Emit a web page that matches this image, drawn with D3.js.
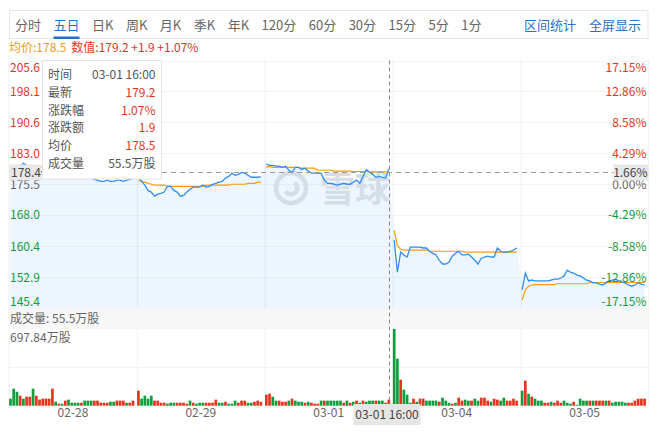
<!DOCTYPE html>
<html><head><meta charset="utf-8">
<script src="https://cdn.jsdelivr.net/npm/d3@7"></script>
<style>
body{margin:0;background:#fff;}
svg{display:block;font-family:"Noto Sans CJK SC","Noto Sans",sans-serif;}
</style></head><body>
<svg id="c" width="668" height="433"></svg>
<script>
// ---------------- data ----------------
const days = ["02-28","02-29","03-01","03-04","03-05"];
const tabs = ["分时","五日","日K","周K","月K","季K","年K","120分","60分","30分","15分","5分","1分"];
const links = ["区间统计","全屏显示"];
const priceTicks = [205.6,198.1,190.6,183.0,175.5,168.0,160.4,152.9,145.4];
const pctLabels = ["17.15%","12.86%","8.58%","4.29%","0.00%","-4.29%","-8.58%","-12.86%","-17.15%"];
const basePrice = 175.5;
const volMax = 697.84;

const priceD1 = [179.9,180.1,179.6,179.9,180.6,180.1,179.6,179.9,179.4,178.9,178.4,177.9,178.2,177.7,177.2,177.4,177.9,178.2,177.7,177.4,177.0,177.2,177.7,177.4,177.2,177.0,176.7,176.5,176.2,176.2,176.5,176.2,176.2,176.5,176.5,176.2,176.5,176.7,177.0];
const priceD2 = [177.7,176.2,175.3,174.0,173.6,172.6,173.1,173.3,173.6,175.0,175.0,174.0,173.6,172.6,172.8,173.6,174.3,174.8,174.8,174.8,175.3,174.8,175.0,175.5,175.7,176.0,176.2,177.0,177.4,178.2,177.7,177.9,178.4,178.2,177.7,177.2,177.2,177.2,177.3];
const priceD3 = [180.4,180.1,180.1,179.9,179.9,179.6,179.9,178.9,178.4,179.6,179.6,179.1,179.4,178.7,178.2,178.2,178.2,178.2,176.5,175.7,175.7,175.5,175.3,175.5,175.7,175.5,175.5,176.0,176.5,175.7,177.4,179.1,178.4,177.9,177.2,177.4,177.2,177.0,179.2];
const priceD4 = [161.9,154.1,159.0,158.3,157.8,160.2,160.2,160.2,160.2,160.0,160.0,159.2,158.7,158.3,157.0,156.1,156.1,156.6,158.0,158.7,159.2,158.3,158.3,158.5,157.8,157.0,156.1,157.5,157.8,158.0,157.8,157.8,160.0,159.2,159.0,159.0,159.2,159.5,160.0];
const priceD5 = [149.8,153.9,152.0,152.2,152.0,152.0,152.0,152.0,152.0,152.2,152.4,152.4,152.7,153.2,154.6,154.1,153.9,153.4,153.2,152.7,152.2,152.0,151.5,151.5,151.2,151.0,151.5,152.0,152.2,152.4,152.0,151.7,151.5,151.0,150.7,151.0,151.5,151.2,151.0];

const avgD1 = [179.9,180.0,179.9,179.9,180.1,180.1,180.0,180.0,179.9,179.8,179.7,179.6,179.5,179.4,179.3,179.2,179.1,179.0,178.9,178.9,178.8,178.7,178.6,178.5,178.5,178.4,178.3,178.2,178.2,178.1,178.0,178.0,177.9,177.9,177.8,177.8,177.7,177.7,177.7];
const avgD2 = [176.5,176.2,176.0,175.7,175.5,175.3,175.3,175.3,175.3,175.0,175.0,175.0,175.0,175.0,175.0,175.0,175.0,175.0,175.0,175.0,175.0,175.3,175.3,175.3,175.3,175.3,175.3,175.3,175.3,175.5,175.5,175.5,175.5,175.5,175.7,175.7,175.7,176.0,176.0];
const avgD3 = [179.6,179.9,179.6,179.6,179.6,179.6,179.6,179.6,179.6,179.6,179.6,179.4,179.4,179.4,179.4,179.4,178.9,178.9,178.9,178.9,178.9,178.7,178.7,178.7,178.7,178.7,178.7,178.6,178.6,178.6,178.6,178.6,178.5,178.5,178.5,178.5,178.5,178.5,178.5];
const avgD4 = [164.3,160.5,159.7,159.5,159.5,159.5,159.5,159.5,159.5,159.5,159.5,159.2,159.2,159.2,159.2,159.2,159.2,159.2,159.2,159.2,159.2,159.2,159.0,159.0,159.0,159.0,159.0,159.0,159.0,159.0,159.0,159.0,159.0,159.0,159.0,159.0,159.0,159.0,159.0];
const avgD5 = [147.3,149.8,150.7,151.0,151.1,151.1,151.1,151.1,151.1,151.1,151.1,151.3,151.3,151.3,151.3,151.3,151.3,151.3,151.3,151.3,151.3,151.6,151.6,151.6,151.6,151.6,151.6,151.6,151.6,151.6,151.6,151.6,151.6,151.6,151.6,151.6,151.6,151.6,151.6];

// volume in 万股, direction: 1 = up (red), -1 = down (green)
const volD1 = [64,155,127,91,64,82,82,155,91,55,64,64,64,155,36,18,18,46,55,27,27,27,27,46,46,46,46,46,27,27,27,36,36,46,46,46,27,27,46];
const dirD1 = [-1,-1,-1,1,-1,1,1,-1,1,1,1,1,1,1,-1,1,-1,1,-1,-1,-1,-1,1,-1,-1,-1,1,1,1,1,1,-1,-1,1,1,1,-1,1,1];
const volD2 = [137,64,91,64,91,46,46,27,27,18,27,27,27,27,27,18,46,27,18,27,27,27,27,27,55,27,27,36,18,18,46,27,46,46,27,27,36,46,36];
const dirD2 = [1,-1,-1,-1,-1,1,1,1,1,-1,-1,-1,1,1,1,1,-1,1,-1,-1,-1,1,1,1,1,-1,-1,1,-1,-1,-1,1,1,1,-1,-1,1,1,1];
const volD3 = [100,109,82,46,46,36,36,46,64,46,36,36,27,36,27,18,18,46,46,46,46,46,46,46,27,46,27,36,46,27,46,36,46,46,46,46,46,27,55.5];
const dirD3 = [1,1,-1,-1,1,1,1,-1,1,-1,-1,-1,1,-1,1,1,1,-1,1,-1,-1,-1,-1,-1,1,-1,1,-1,1,-1,1,-1,-1,-1,1,-1,-1,1,1];
const volD4 = [697.84,428,237,146,100,27,64,36,64,64,46,46,46,46,36,73,46,27,18,27,73,46,55,46,46,64,46,73,73,46,36,64,55,46,73,46,46,64,46];
const dirD4 = [-1,-1,1,-1,-1,-1,1,-1,1,1,-1,-1,-1,-1,1,-1,-1,-1,1,-1,1,1,-1,-1,1,-1,-1,1,1,1,-1,1,1,-1,-1,1,1,1,1];
const volD5 = [137,228,109,82,64,46,46,27,27,36,27,46,27,46,27,18,36,9,64,46,46,46,46,46,46,46,46,46,27,36,36,36,27,27,27,46,64,64,64];
const dirD5 = [-1,1,-1,1,-1,-1,-1,1,1,-1,1,1,1,-1,-1,-1,1,-1,-1,-1,-1,1,-1,1,1,1,-1,1,-1,-1,-1,-1,-1,1,1,1,1,1,1];

const tipLabels = ["时间","最新","涨跌幅","涨跌额","均价","成交量"];
const tipValues = ["03-01 16:00","179.2","1.07%","1.9","178.5","55.5万股"];
const crossPrice = 178.4, crossPct = "1.66%";
const crossDay = "03-01", crossIndex = 38, crossTime = "03-01 16:00";
const summaryAvg = "均价:178.5", summaryVal = "数值:179.2 +1.9 +1.07%";
const volHeader = "成交量: 55.5万股";
const watermark = "雪球";

// ---------------- drawing ----------------
const RED = "#e4361f", GREEN = "#0f9d3e", BLUE = "#2f8ff2", ORANGE = "#fb9b0a";
const svg = d3.select("#c");
const L = 9, R = 648.5;
const pTop = 60.5, pBot = 308, vTop = 329, vBot = 405.7;

const days5 = [priceD1,priceD2,priceD3,priceD4,priceD5];
const avgs5 = [avgD1,avgD2,avgD3,avgD4,avgD5];
const vols5 = [volD1,volD2,volD3,volD4,volD5];
const dirs5 = [dirD1,dirD2,dirD3,dirD4,dirD5];

const xDay = d3.scaleBand().domain(days).range([L, R]).padding(0);
const xIn = d3.scaleLinear().domain([0, 38]).range([1.5, 124]);
const y = d3.scaleLinear().domain([145.4, 205.6]).range([pBot, pTop]);
const yv = d3.scaleLinear().domain([0, volMax]).range([vBot, vTop]);
const fx = (day, i) => xDay(day) + xIn(i);

// toolbar
svg.append("rect").attr("x", 9.5).attr("y", 10.5).attr("width", 638.5).attr("height", 28)
  .attr("fill", "#fff").attr("stroke", "#e6e6e6");
let tx = 15;
tabs.forEach((t, i) => {
  const el = svg.append("text").attr("x", tx).attr("y", 29.5).attr("font-size", 13)
    .attr("fill", i === 1 ? "#1c6fd8" : "#666").text(t);
  const w = el.node().getComputedTextLength();
  if (i === 1) svg.append("rect").attr("x", tx).attr("y", 36.5).attr("width", w).attr("height", 2.5).attr("fill", "#1c6fd8");
  tx += w + 12.5;
});
let rx = 641;
links.slice().reverse().forEach(t => {
  const el = svg.append("text").attr("x", rx).attr("y", 29.5).attr("font-size", 13)
    .attr("text-anchor", "end").attr("fill", "#2a6fc9").text(t);
  rx -= el.node().getComputedTextLength() + 13;
});
// summary line
const s1 = svg.append("text").attr("x", 9).attr("y", 52).attr("font-size", 12).attr("fill", "#f39a1c").text(summaryAvg);
svg.append("text").attr("x", 9 + s1.node().getComputedTextLength() + 5).attr("y", 52)
  .attr("font-size", 12).attr("fill", RED).text(summaryVal);

// continuous area under price line
const allPts = days.flatMap((day, k) => days5[k].map((v, i) => ({ x: fx(day, i), v })));
const ar = d3.area().x(d => d.x).y0(pBot).y1(d => y(d.v));
svg.append("path").attr("d", ar(allPts)).attr("fill", "#edf5fe");

// grid on top of area
const gGrid = svg.append("g");
gGrid.selectAll("line.h").data(priceTicks).join("line")
  .attr("x1", L).attr("x2", R).attr("y1", d => Math.round(y(d)) + 0.5).attr("y2", d => Math.round(y(d)) + 0.5)
  .attr("stroke", "#000").attr("stroke-opacity", 0.045);
days.slice(1).forEach(d => {
  gGrid.append("line").attr("x1", xDay(d) + 0.5).attr("x2", xDay(d) + 0.5)
    .attr("y1", pTop).attr("y2", pBot).attr("stroke", "#000").attr("stroke-opacity", 0.06);
  gGrid.append("line").attr("x1", xDay(d) + 0.5).attr("x2", xDay(d) + 0.5)
    .attr("y1", vTop).attr("y2", vBot).attr("stroke", "#000").attr("stroke-opacity", 0.06);
});
svg.append("line").attr("x1", L).attr("x2", L).attr("y1", pTop).attr("y2", vBot).attr("stroke", "#f0f0f0");
svg.append("line").attr("x1", R).attr("x2", R).attr("y1", pTop).attr("y2", vBot).attr("stroke", "#f0f0f0");

// watermark
const wm = svg.append("g").attr("fill", "#d5dde7").attr("stroke", "#d5dde7");
wm.append("circle").attr("cx", 291).attr("cy", 188).attr("r", 15).attr("fill", "none").attr("stroke-width", 4.5);
wm.append("path").attr("d", d3.arc()({ innerRadius: 4, outerRadius: 8.5, startAngle: 0.6, endAngle: 4.2 }))
  .attr("transform", "translate(291,188)").attr("stroke", "none");
wm.append("text").attr("x", 320).attr("y", 202).attr("font-size", 35).attr("font-weight", "bold")
  .attr("stroke", "none").text(watermark);

// lines per day
days.forEach((day, k) => {
  const ln = d3.line().x((d, i) => fx(day, i)).y(d => y(d));
  svg.append("path").attr("d", ln(avgs5[k])).attr("fill", "none").attr("stroke", ORANGE).attr("stroke-width", 1.2);
  svg.append("path").attr("d", ln(days5[k])).attr("fill", "none").attr("stroke", BLUE).attr("stroke-width", 1.3);
});

// axes labels (inside plot)
const axL = d3.axisRight(y).tickValues(priceTicks).tickSize(0).tickPadding(1).tickFormat(d3.format(".1f"));
const gL = svg.append("g").attr("transform", `translate(${L},0)`).call(axL);
const axR = d3.axisLeft(y).tickValues(priceTicks).tickSize(0).tickPadding(1)
  .tickFormat((d, i) => pctLabels[i]);
const gR = svg.append("g").attr("transform", `translate(${R - 1},0)`).call(axR);
[gL, gR].forEach(g => {
  g.select(".domain").remove();
  g.selectAll("text").attr("font-size", 12).attr("font-family", "Noto Sans CJK SC, sans-serif")
    .attr("fill", d => d > basePrice + 0.01 ? RED : d < basePrice - 0.01 ? GREEN : "#666")
    .attr("dy", d => d === priceTicks[0] ? "0.95em" : d === priceTicks[priceTicks.length - 1] ? "-0.2em" : "0.32em");
});

// volume header
svg.append("rect").attr("x", L).attr("y", pBot + 1).attr("width", R - L).attr("height", vTop - pBot - 1).attr("fill", "#f7f7f7");
svg.append("text").attr("x", L + 1).attr("y", 323).attr("font-size", 12).attr("fill", "#666").text(volHeader);
svg.append("line").attr("x1", L).attr("x2", R).attr("y1", Math.round(yv(volMax / 2)) + 0.5).attr("y2", Math.round(yv(volMax / 2)) + 0.5).attr("stroke", "#f2f2f2");
svg.append("text").attr("x", L + 1).attr("y", 342).attr("font-size", 12).attr("fill", "#666")
  .text(d3.format(".2f")(volMax) + "万股");

// volume bars
days.forEach((day, k) => {
  svg.append("g").selectAll("rect").data(vols5[k]).join("rect")
    .attr("x", (d, i) => fx(day, i) - 1.35).attr("width", 2.7)
    .attr("y", d => yv(d)).attr("height", d => vBot - yv(d))
    .attr("fill", (d, i) => dirs5[k][i] > 0 ? RED : GREEN);
});

// x axis labels
const axX = d3.axisBottom(xDay).tickSize(0).tickPadding(3);
const gX = svg.append("g").attr("transform", `translate(0,${vBot})`).call(axX);
gX.select(".domain").remove();
gX.selectAll("text").attr("font-size", 12).attr("fill", "#666").attr("font-family", "Noto Sans CJK SC, sans-serif");

// crosshair
const cx = Math.round(fx(crossDay, crossIndex)) + 0.5;
const cy = Math.round(y(crossPrice)) + 0.5;
svg.append("line").attr("x1", cx).attr("x2", cx).attr("y1", pTop).attr("y2", vBot)
  .attr("stroke", "#8a8a8a").attr("stroke-dasharray", "4,3");
svg.append("line").attr("x1", L).attr("x2", R).attr("y1", cy).attr("y2", cy)
  .attr("stroke", "#9a9a9a").attr("stroke-dasharray", "5,4");
svg.append("rect").attr("x", L).attr("y", cy - 8).attr("width", 32).attr("height", 16).attr("fill", "#e8e8e8");
svg.append("text").attr("x", L + 2).attr("y", cy + 4.5).attr("font-size", 12).attr("fill", "#444").text(d3.format(".1f")(crossPrice));
svg.append("rect").attr("x", R - 35).attr("y", cy - 8).attr("width", 35).attr("height", 16).attr("fill", "#e8e8e8");
svg.append("text").attr("x", R - 1).attr("y", cy + 4.5).attr("font-size", 12).attr("text-anchor", "end").attr("fill", "#444").text(crossPct);
svg.append("rect").attr("x", cx - 36).attr("y", 404).attr("width", 67).attr("height", 21).attr("fill", "#e6e6e6");
svg.append("text").attr("x", cx - 2.5).attr("y", 418.5).attr("font-size", 12).attr("text-anchor", "middle").attr("fill", "#444").text(crossTime);

// tooltip
const tip = svg.append("g");
tip.append("rect").attr("x", 42.5).attr("y", 60.5).attr("width", 119).attr("height", 118.5)
  .attr("fill", "#fff").attr("stroke", "#e3e3e3");
tipLabels.forEach((t, i) => {
  const yy = 79 + i * 17.8;
  tip.append("text").attr("x", 48).attr("y", yy).attr("font-size", 12).attr("fill", "#555").text(t);
  tip.append("text").attr("x", 155.5).attr("y", yy).attr("font-size", 12).attr("text-anchor", "end")
    .attr("fill", (i === 0 || i === 5) ? "#555" : RED).text(tipValues[i]);
});
</script>
</body></html>
